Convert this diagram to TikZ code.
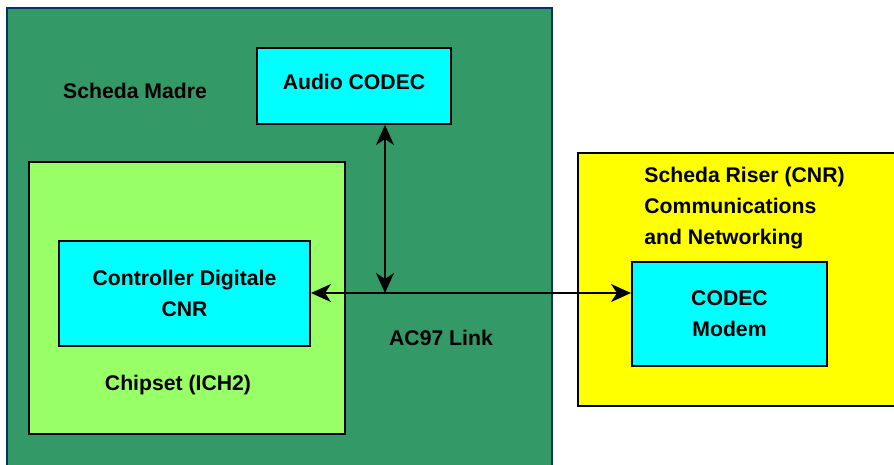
\documentclass[tikz,border=0pt]{standalone}
\usepackage{fontspec}
\setmainfont{Liberation Sans}
\usepackage{xcolor}
\usetikzlibrary{positioning,arrows.meta,calc}
\definecolor{boardgreen}{RGB}{51,153,102}
\definecolor{boardedge}{RGB}{0,51,102}
\definecolor{chipgreen}{RGB}{153,255,102}
\definecolor{blkcyan}{RGB}{0,255,255}
\definecolor{riseryellow}{RGB}{255,255,0}

\begin{document}
\begin{tikzpicture}[
  x=0.5pt, y=-0.5pt,
  every node/.style={font=\fontsize{10.6}{15.6}\selectfont\bfseries, inner sep=0pt},
  blk/.style={rectangle, draw=black, line width=1pt, fill=blkcyan, align=center},
  lnk/.style={line width=0.9pt, {Stealth[length=10pt,width=9pt,inset=3pt]}-{Stealth[length=10pt,width=9pt,inset=3pt]}}
]
  \clip (0,0) rectangle (894,465);
  \fill[white] (0,0) rectangle (894,465);
  % boards
  \draw[boardedge, line width=1pt, fill=boardgreen] (7,8) rectangle (552,480);
  \draw[black, line width=1pt, fill=chipgreen] (29,162) rectangle (345,434);
  \draw[black, line width=1pt, fill=riseryellow] (578,153) rectangle (910,406);
  \node (madre) at (135,91) {Scheda Madre};
  \node (chipset) at (178,385) {Chipset (ICH2)};
  \node[anchor=west, align=left] (riser) at (644,208) {Scheda Riser (CNR)\\Communications\\and Networking};
  % blocks
  \node[blk, minimum width=97pt, minimum height=38pt] (audio) at (354,86) {\raisebox{2pt}[\height][\depth]{Audio CODEC}};
  \node[blk, minimum width=125.5pt, minimum height=52.5pt] (ctrl) at (184.5,293.5) {Controller Digitale\\CNR};
  \node[blk, minimum width=97.5pt, minimum height=52pt] (modem) at (729.5,314) {CODEC\\Modem};
  \node (ac97) at (441,338) {AC97 Link};
  % links
  \coordinate (jn) at (385,293);
  \draw[lnk] (ctrl.east |- jn) -- (modem.west |- jn);
  \draw[lnk] (audio.south -| jn) -- (jn);
\end{tikzpicture}
\end{document}
